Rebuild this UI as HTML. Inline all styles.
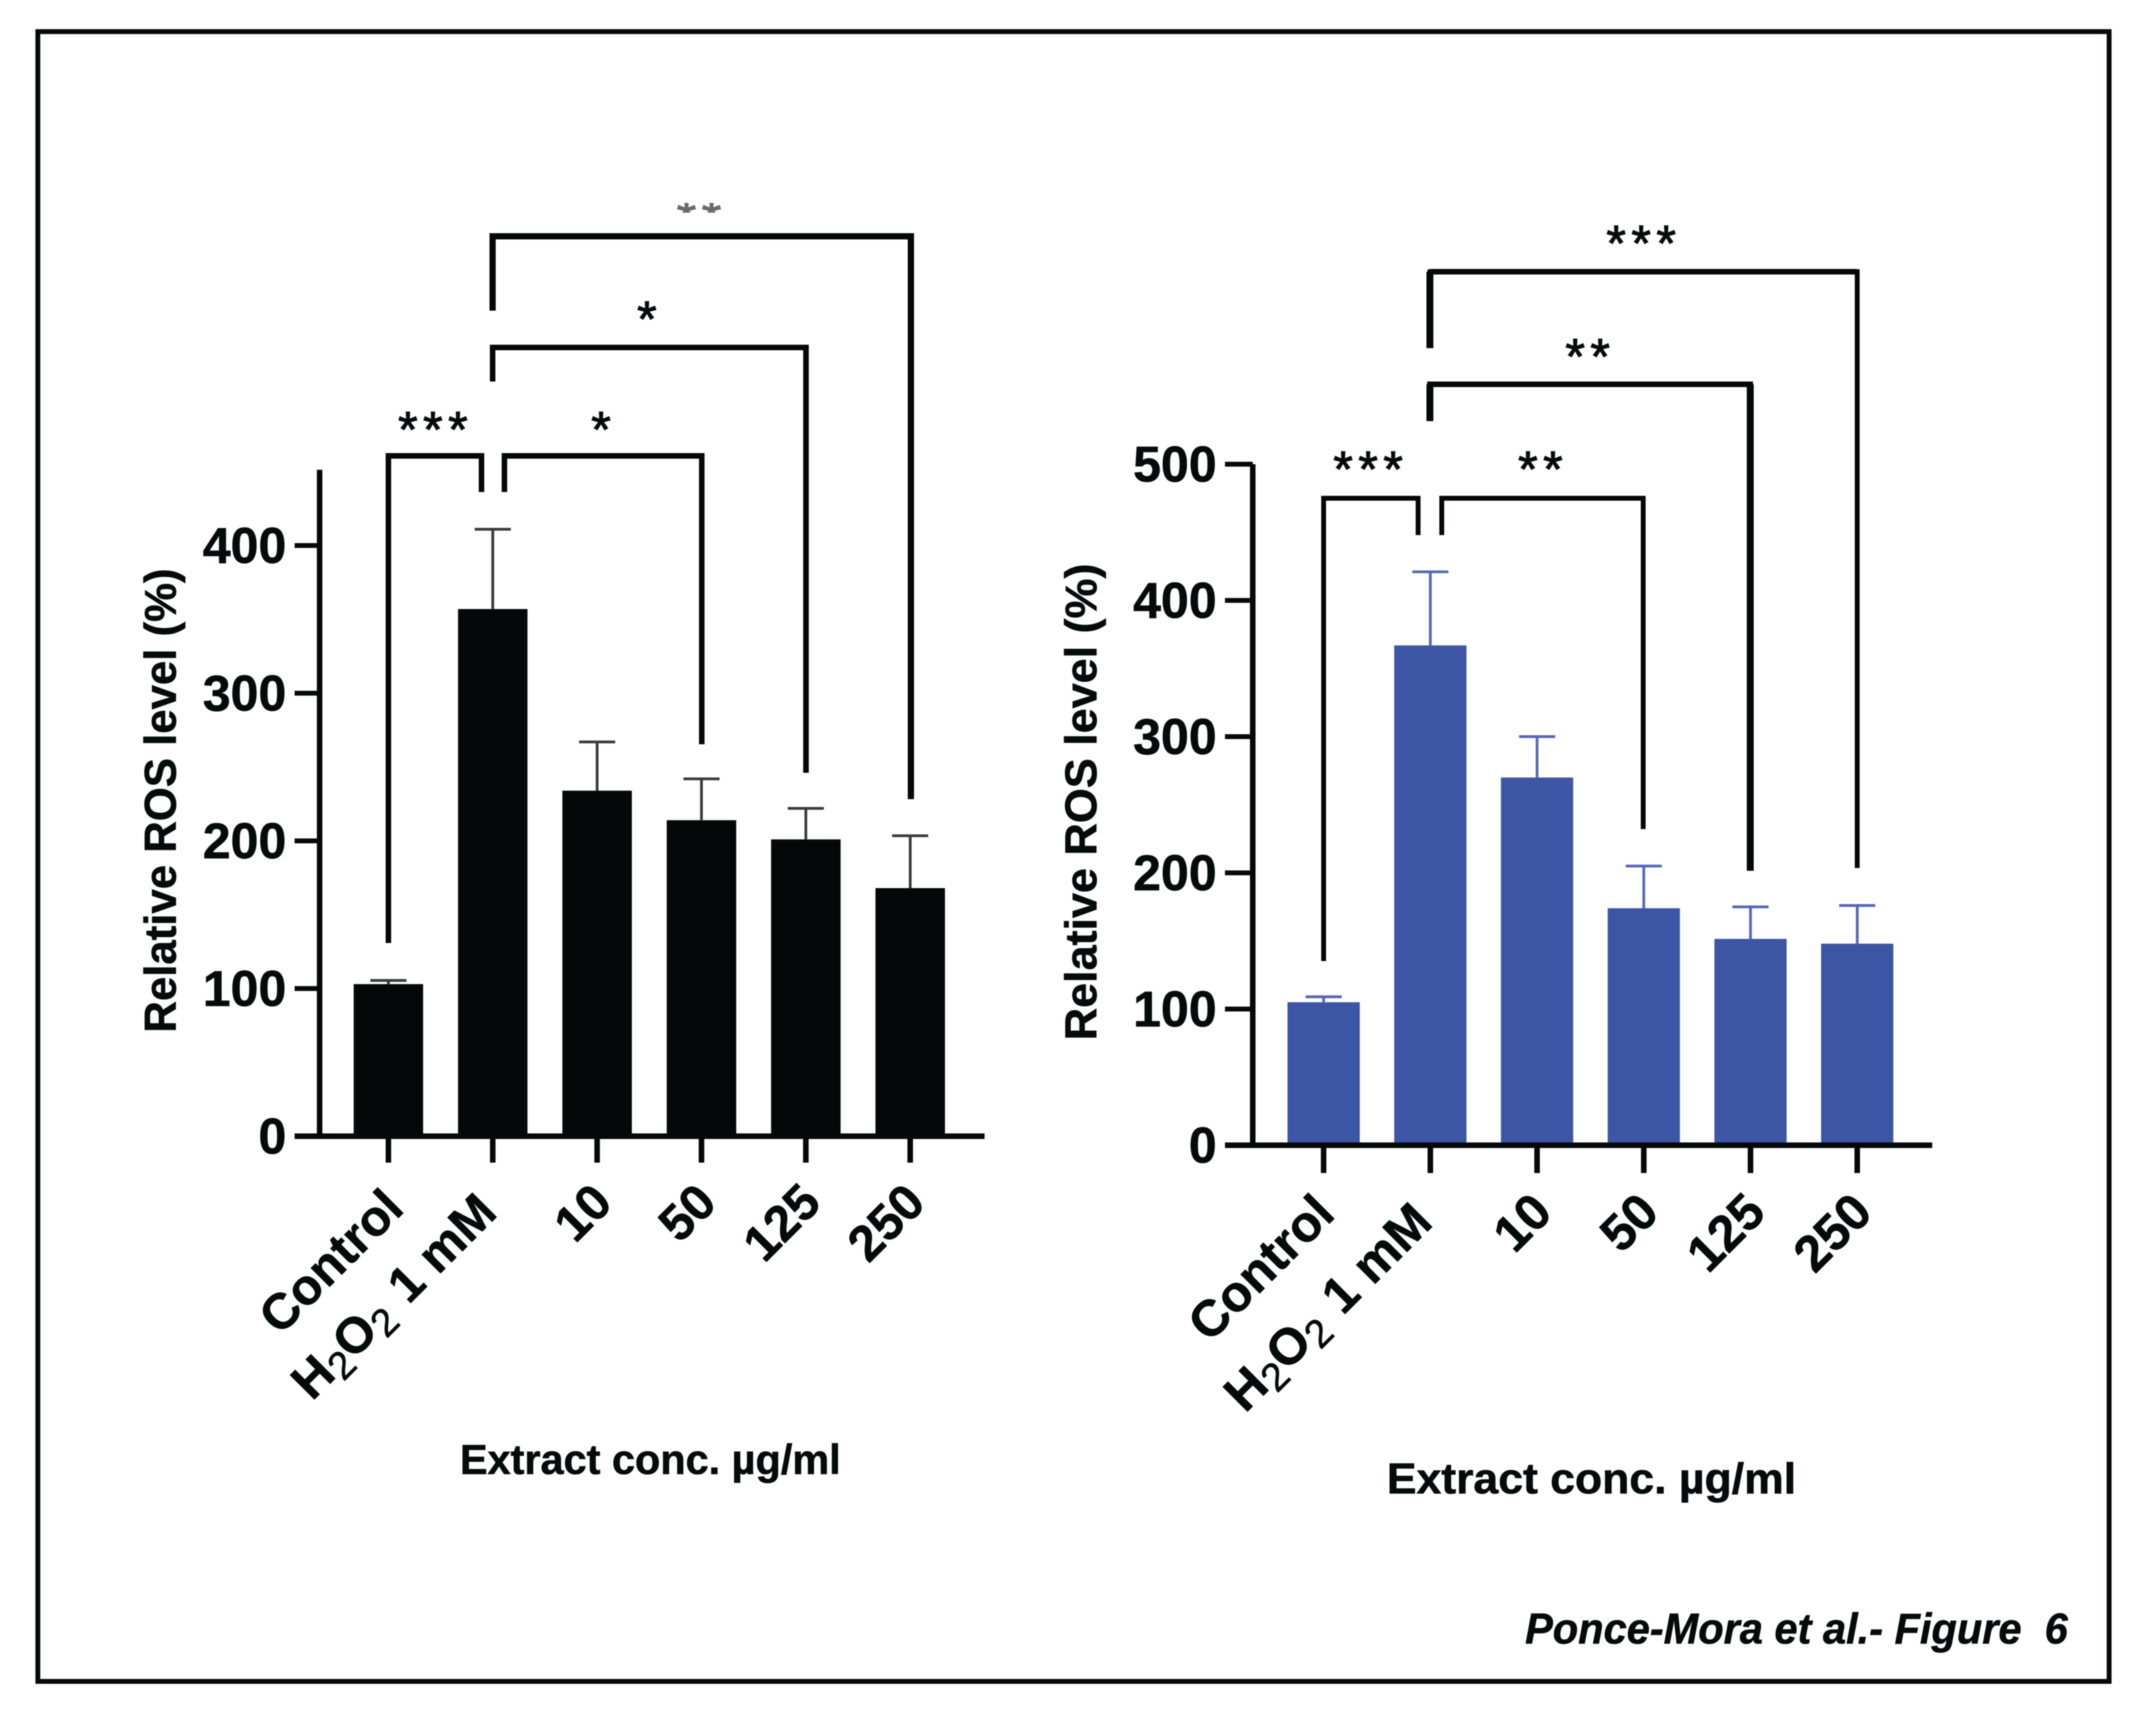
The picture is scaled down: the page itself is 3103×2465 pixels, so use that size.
<!DOCTYPE html>
<html lang="en">
<head>
<meta charset="utf-8">
<title>Ponce-Mora et al. Figure 6</title>
<style>
html,body{margin:0;padding:0;background:#fff;width:3103px;height:2465px;overflow:hidden}
svg{display:block;filter:blur(0.8px)}
text{font-family:"Liberation Sans",sans-serif;font-weight:bold;fill:#050a0a;stroke:#050a0a;stroke-width:0.8px}
</style>
</head>
<body>
<svg id="fig" xmlns="http://www.w3.org/2000/svg" width="3103" height="2465" viewBox="0 0 3103 2465">
<defs><clipPath id="cut-stars"><rect x="960" y="292" width="100" height="14"/></clipPath></defs>
<rect x="0" y="0" width="3103" height="2465" fill="#fff"/>
<rect x="54.5" y="45.5" width="2981" height="2374" fill="none" stroke="#040a0a" stroke-width="7"/>
<text x="2195" y="2365" font-size="62" font-style="italic" textLength="781" lengthAdjust="spacingAndGlyphs" xml:space="preserve">Ponce-Mora et al.- Figure  6</text>
</svg>
<script>
const categories = ['Control', 'H2O2 1 mM', '10', '50', '125', '250'];
const leftMeans = [103, 357, 234, 214, 201, 168];
const leftErrorTops = [105.5, 411, 267, 242, 222, 203.5];
const leftTicks = [0, 100, 200, 300, 400];
const rightMeans = [105, 367, 270, 174, 151.5, 148];
const rightErrorTops = [109, 421, 300, 205, 175, 176];
const rightTicks = [0, 100, 200, 300, 400, 500];

const svg = document.getElementById('fig');
const NS = 'http://www.w3.org/2000/svg';
const INK = '#040808';

function add(tag, name, attrs, text) {
  const el = document.createElementNS(NS, tag);
  
  
  for (const k in attrs) el.setAttribute(k, attrs[k]);
  if (text !== undefined) el.textContent = text;
  svg.appendChild(el);
  return el;
}

function line(name, x1, y1, x2, y2, color, w) {
  return add('line', name, {x1, y1, x2, y2, stroke: color, 'stroke-width': w});
}

function bracket(name, xa, ya, yt, xb, yb, w) {
  return add('path', name, {
    d: 'M' + xa + ' ' + ya + 'V' + yt + 'H' + xb + 'V' + yb,
    fill: 'none', stroke: INK, 'stroke-width': w, 'stroke-linejoin': 'miter'
  });
}

function stars(name, cx, cy, s, extra) {
  const attrs = {x: cx + 4, y: cy + 34, 'font-size': 72, 'text-anchor': 'middle', 'letter-spacing': 8, style: 'font-weight:normal;stroke-width:1.5px'};
  if (extra) Object.assign(attrs, extra);
  return add('text', name, attrs, s);
}

function xLabel(prefix, i, tx, fs) {
  const isLeft = prefix === 'left';
  let ax, ay;
  if (i === 0) { ax = tx + (isLeft ? 25 : 19); ay = isLeft ? 1742 : 1750; }
  else if (i === 1) { ax = tx + (isLeft ? 9 : 6); ay = isLeft ? 1748 : 1762; }
  else { ax = tx + 25; ay = isLeft ? 1734 : 1748; }
  const t = add('text', prefix + '-x-label-' + i, {
    x: ax, y: ay, 'font-size': fs, 'text-anchor': 'end',
    transform: 'rotate(-45 ' + ax + ' ' + ay + ')'
  });
  if (i === 1) {
    const parts = [['H', 0, 0, 'bold', fs], ['2', 12, 0, 'normal', fs * 0.78], ['O', -12, 0, 'bold', fs], ['2', 12, 0, 'normal', fs * 0.78], ['1 mM', -12, 26, 'bold', fs]];
    parts.forEach(function (p) {
      const sp = document.createElementNS(NS, 'tspan');
      sp.setAttribute('dy', p[1]);
      sp.setAttribute('dx', p[2]);
      sp.style.fontWeight = p[3];
      sp.setAttribute('font-size', p[4]);
      sp.textContent = p[0];
      t.appendChild(sp);
    });
  } else {
    t.textContent = categories[i];
  }
}

function drawChart(o) {
  const y = function (v) { return o.y0 - v * o.pxPerUnit; };
  const x = function (i) { return o.x0 + i * o.step; };

  // bars and error bars
  o.means.forEach(function (m, i) {
    add('rect', o.id + '-bar-' + i, {x: x(i) - o.barW / 2, y: y(m), width: o.barW, height: o.y0 - y(m), fill: o.fill});
    line(o.id + '-error-stem-' + i, x(i), y(m), x(i), y(o.errs[i]), o.err, 4);
    line(o.id + '-error-cap-' + i, x(i) - 26, y(o.errs[i]), x(i) + 26, y(o.errs[i]), o.err, 4);
  });

  // axes
  line(o.id + '-y-axis', o.axisX, o.axisTop, o.axisX, o.y0 + 4, INK, 8);
  line(o.id + '-x-axis', o.axisLeft, o.y0, o.axisRight, o.y0, INK, 8);

  o.ticks.forEach(function (t) {
    line(o.id + '-y-tick-' + t, o.axisLeft, y(t), o.axisX, y(t), INK, 7);
    add('text', o.id + '-y-label-' + t, {x: o.axisLeft - 12, y: y(t) + 25, 'font-size': 72, 'text-anchor': 'end'}, String(t));
  });

  categories.forEach(function (c, i) {
    line(o.id + '-x-tick-' + i, x(i), o.y0, x(i), o.y0 + o.tickLen, INK, 8);
    xLabel(o.id, i, x(i), o.labelFs);
  });
}

drawChart({
  id: 'left', means: leftMeans, errs: leftErrorTops, ticks: leftTicks,
  y0: 1635, pxPerUnit: 2.125, x0: 559, step: 150.2, barW: 100,
  axisX: 460, axisTop: 676, axisLeft: 424, axisRight: 1417, tickLen: 38,
  fill: '#040808', err: '#3a3a3a', labelFs: 72
});
drawChart({
  id: 'right', means: rightMeans, errs: rightErrorTops, ticks: rightTicks,
  y0: 1648, pxPerUnit: 1.96, x0: 1905, step: 153.6, barW: 104,
  axisX: 1803, axisTop: 668, axisLeft: 1763, axisRight: 2781, tickLen: 40,
  fill: '#3c55a5', err: '#5468b8', labelFs: 73
});

// significance brackets: left chart
bracket('left-bracket-control-h2o2', 559, 1357, 656, 693, 708, 8);
bracket('left-bracket-h2o2-50', 726, 708, 656, 1010, 1071, 8);
bracket('left-bracket-h2o2-125', 709, 549, 500, 1160, 1112, 8);
bracket('left-bracket-h2o2-250', 709, 447, 340, 1311, 1150, 9);
stars('left-stars-control-h2o2', 623, 609, '***');
stars('left-stars-h2o2-50', 865, 609, '*');
stars('left-stars-h2o2-125', 931, 450, '*');
stars('left-stars-h2o2-250', 1006, 305, '**', {'clip-path': 'url(#cut-stars)', opacity: 0.6});

// significance brackets: right chart
bracket('right-bracket-control-h2o2', 1905, 1383, 717, 2041, 770, 7);
bracket('right-bracket-h2o2-50', 2075, 770, 717, 2365, 1193, 7);
bracket('right-bracket-h2o2-125', 2058, 606, 553, 2519, 1253, 8);
line('right-bracket-h2o2-125-left-stem', 2058, 553, 2058, 606, INK, 10);
line('right-bracket-h2o2-125-right-stem', 2519, 553, 2519, 1253, INK, 10);
bracket('right-bracket-h2o2-250', 2058, 501, 391, 2673, 1249, 7);
line('right-bracket-h2o2-250-left-stem', 2058, 391, 2058, 501, INK, 10);
line('right-bracket-h2o2-250-top', 2058, 391, 2673, 391, INK, 8);
stars('right-stars-control-h2o2', 1969, 666, '***');
stars('right-stars-h2o2-50', 2217, 666, '**');
stars('right-stars-h2o2-125', 2285, 504, '**');
stars('right-stars-h2o2-250', 2362, 341, '***');

// axis titles
add('text', 'left-y-axis-title', {x: 0, y: 0, 'font-size': 64, 'text-anchor': 'middle', textLength: 668, lengthAdjust: 'spacingAndGlyphs', transform: 'translate(253 1152) rotate(-90)'}, 'Relative ROS level (%)');
add('text', 'right-y-axis-title', {x: 0, y: 0, 'font-size': 64, 'text-anchor': 'middle', textLength: 686, lengthAdjust: 'spacingAndGlyphs', transform: 'translate(1578 1154) rotate(-90)'}, 'Relative ROS level (%)');
add('text', 'left-x-axis-title', {x: 662, y: 2121, 'font-size': 60, textLength: 548, lengthAdjust: 'spacingAndGlyphs'}, 'Extract conc. \u00b5g/ml');
add('text', 'right-x-axis-title', {x: 1996, y: 2149, 'font-size': 62, textLength: 589, lengthAdjust: 'spacingAndGlyphs'}, 'Extract conc. \u00b5g/ml');
</script>
</body>
</html>
